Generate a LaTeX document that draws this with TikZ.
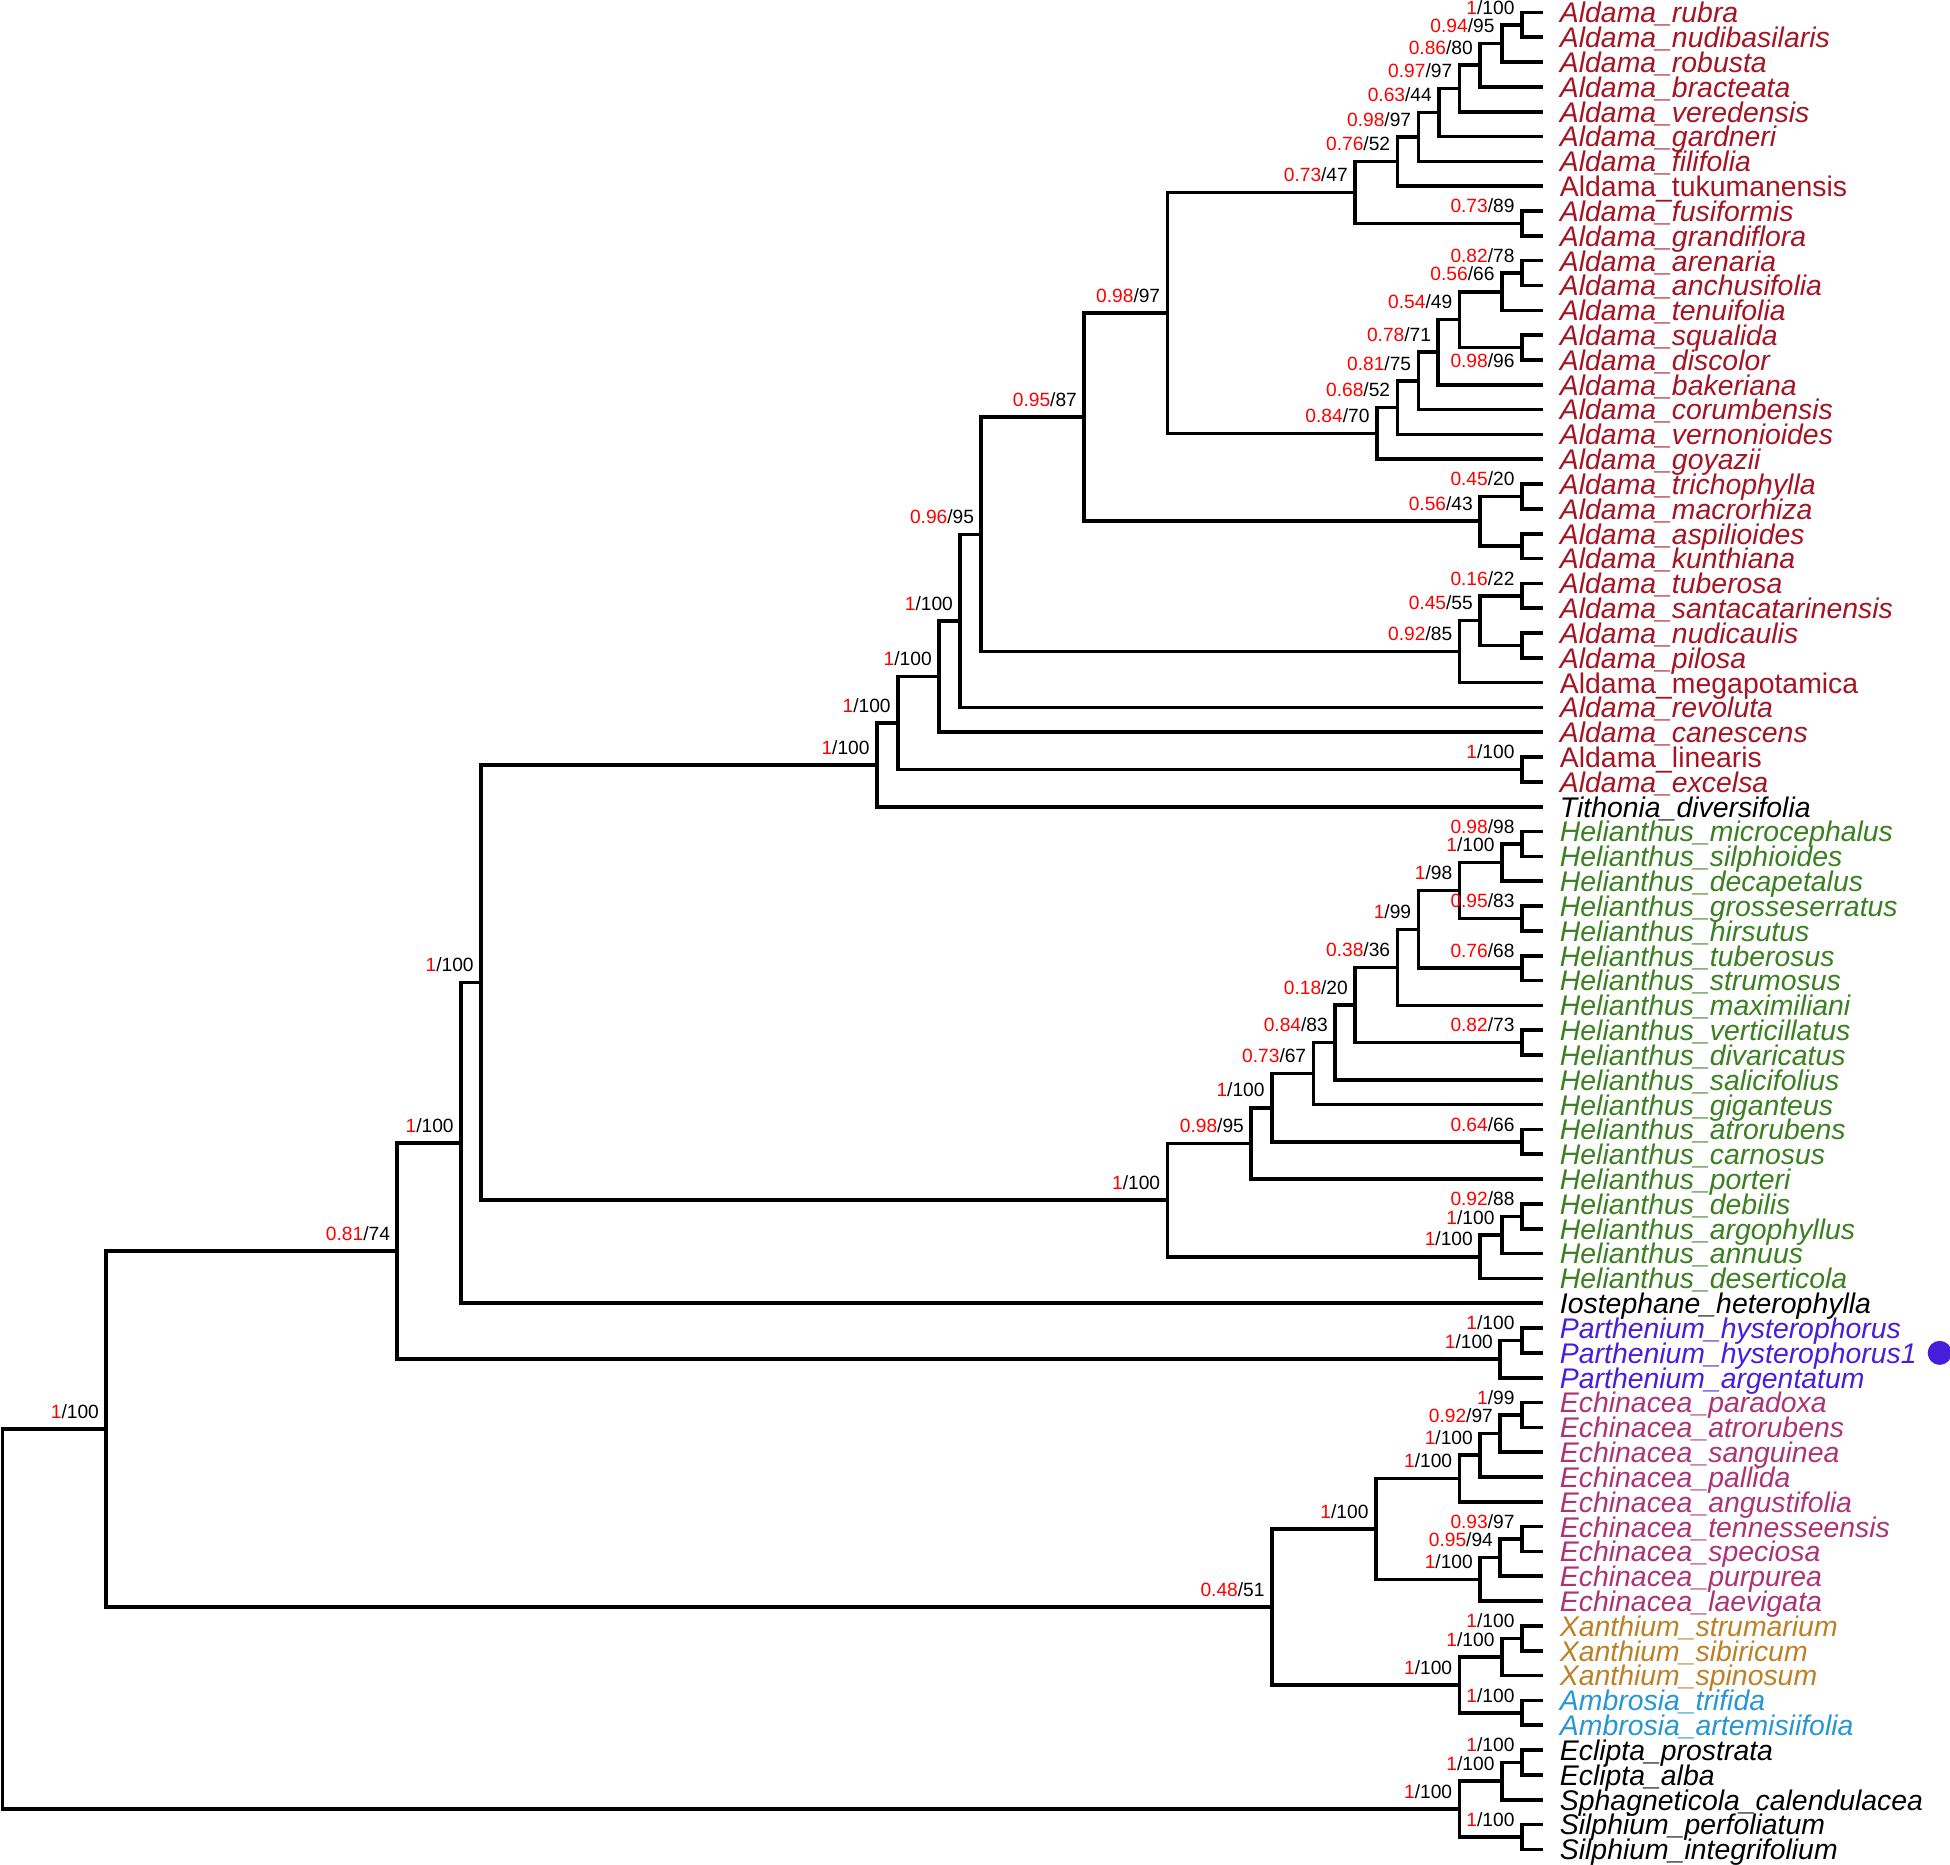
\documentclass[tikz,border=0pt]{standalone}
\usepackage{fontspec}
\setmainfont{Liberation Sans}
\usetikzlibrary{calc}

\definecolor{aldred}{RGB}{165,20,35}
\definecolor{helgreen}{RGB}{58,128,32}
\definecolor{parblue}{RGB}{70,30,220}
\definecolor{echpink}{RGB}{172,52,118}
\definecolor{xanochre}{RGB}{189,128,36}
\definecolor{ambblue}{RGB}{40,150,210}
\definecolor{bsred}{RGB}{255,0,0}

\tikzset{x=0.6pt, y=-11.976pt,
  br/.style={line width=1.75pt},
  leaf/.style={anchor=base west, inner sep=0pt, xshift=7.8pt, yshift=-5pt,
    font=\fontsize{13.7}{14}\selectfont\itshape},
  supbase/.style={anchor=base east, inner sep=0pt, xshift=-3.3pt,
    font=\fontsize{9.25}{10}\selectfont},
  sup/.style={supbase, yshift=5.2pt},
  supbelow/.style={supbase, yshift=-9.7pt},
  dot/.style={circle, fill=parblue, inner sep=0pt, minimum size=11.6pt}}

\newcommand\supp[2]{\textcolor{bsred}{#1}/#2}
% node at x=#2, halfway between children #3 and #4
\newcommand\mkclade[4]{%
  \coordinate (tmp) at ($(#3)!0.5!(#4)$);
  \coordinate (#1) at (#2,0 |- tmp);
  \draw[br] (#1) |- (#3) (#1) |- (#4);
}

\begin{document}
\begin{tikzpicture}

\useasboundingbox (0,0.499) rectangle (1568,75.599);

% tips
\foreach \i in {1,...,75}
  \coordinate (t\i) at (1241,\i);

% Aldama
\mkclade{a1}{1223.6}{t1}{t2}
\mkclade{a2}{1207.5}{a1}{t3}
\mkclade{a3}{1190.1}{a2}{t4}
\mkclade{a4}{1173.5}{a3}{t5}
\mkclade{a5}{1157.1}{a4}{t6}
\mkclade{a6}{1140.5}{a5}{t7}
\mkclade{a7}{1123.6}{a6}{t8}
\mkclade{a8}{1223.6}{t9}{t10}
\mkclade{a9}{1089.6}{a7}{a8}
\mkclade{a10}{1223.6}{t11}{t12}
\mkclade{a11}{1207.5}{a10}{t13}
\mkclade{a12}{1223.6}{t14}{t15}
\mkclade{a13}{1173.5}{a11}{a12}
\mkclade{a14}{1156.5}{a13}{t16}
\mkclade{a15}{1140.5}{a14}{t17}
\mkclade{a16}{1123.6}{a15}{t18}
\mkclade{a17}{1107}{a16}{t19}
\mkclade{a18}{938.7}{a9}{a17}
\mkclade{a19}{1223.6}{t20}{t21}
\mkclade{a20}{1223.6}{t22}{t23}
\mkclade{a21}{1190.1}{a19}{a20}
\mkclade{a22}{871.7}{a18}{a21}
\mkclade{a23}{1223.6}{t24}{t25}
\mkclade{a24}{1223.6}{t26}{t27}
\mkclade{a25}{1190.1}{a23}{a24}
\mkclade{a26}{1173.5}{a25}{t28}
\mkclade{a27}{789}{a22}{a26}
\mkclade{a28}{772}{a27}{t29}
\mkclade{a29}{755}{a28}{t30}
\mkclade{a30}{1223.6}{t31}{t32}
\mkclade{a31}{722}{a29}{a30}
\mkclade{a32}{705}{a31}{t33}

% Helianthus
\mkclade{h1}{1223.6}{t34}{t35}
\mkclade{h2}{1207.5}{h1}{t36}
\mkclade{h3}{1223.6}{t37}{t38}
\mkclade{h4}{1173.5}{h2}{h3}
\mkclade{h5}{1223.6}{t39}{t40}
\mkclade{h6}{1140.5}{h4}{h5}
\mkclade{h7}{1123.6}{h6}{t41}
\mkclade{h8}{1223.6}{t42}{t43}
\mkclade{h9}{1089.6}{h7}{h8}
\mkclade{h10}{1073.5}{h9}{t44}
\mkclade{h11}{1056.1}{h10}{t45}
\mkclade{h12}{1223.6}{t46}{t47}
\mkclade{h13}{1022.6}{h11}{h12}
\mkclade{h14}{1006}{h13}{t48}
\mkclade{h15}{1223.6}{t49}{t50}
\mkclade{h16}{1207.5}{h15}{t51}
\mkclade{h17}{1190.1}{h16}{t52}
\mkclade{h18}{938.7}{h14}{h17}

\mkclade{n1}{386.7}{a32}{h18}
\mkclade{n2}{370.6}{n1}{t53}
\mkclade{p1}{1223.6}{t54}{t55}
\mkclade{p2}{1206.2}{p1}{t56}
\mkclade{n3}{319.4}{n2}{p2}

% Echinacea, Xanthium, Ambrosia
\mkclade{e1}{1223.6}{t57}{t58}
\mkclade{e2}{1206.2}{e1}{t59}
\mkclade{e3}{1190.1}{e2}{t60}
\mkclade{e4}{1173.5}{e3}{t61}
\mkclade{e5}{1223.6}{t62}{t63}
\mkclade{e6}{1206.2}{e5}{t64}
\mkclade{e7}{1190.1}{e6}{t65}
\mkclade{e8}{1106.2}{e4}{e7}
\mkclade{x1}{1223.6}{t66}{t67}
\mkclade{x2}{1207.5}{x1}{t68}
\mkclade{x3}{1223.6}{t69}{t70}
\mkclade{x4}{1173.5}{x2}{x3}
\mkclade{n4}{1022.6}{e8}{x4}
\mkclade{n5}{85.3}{n3}{n4}

% outgroup
\mkclade{s1}{1223.6}{t71}{t72}
\mkclade{s2}{1207.5}{s1}{t73}
\mkclade{s3}{1223.6}{t74}{t75}
\mkclade{s4}{1173.5}{s2}{s3}
\mkclade{root}{1.9}{n5}{s4}

% support values
\foreach \nd/\pv/\bv in {a1/1/100, a2/0.94/95, a3/0.86/80, a4/0.97/97,
    a5/0.63/44, a6/0.98/97, a7/0.76/52, a8/0.73/89, a9/0.73/47,
    a10/0.82/78, a11/0.56/66, a13/0.54/49, a14/0.78/71, a15/0.81/75,
    a16/0.68/52, a17/0.84/70, a18/0.98/97, a19/0.45/20, a21/0.56/43,
    a22/0.95/87, a23/0.16/22, a25/0.45/55, a26/0.92/85, a27/0.96/95,
    a28/1/100, a29/1/100, a30/1/100, a31/1/100, a32/1/100,
    h1/0.98/98, h2/1/100, h3/0.95/83, h4/1/98, h5/0.76/68, h6/1/99,
    h7/0.38/36, h8/0.82/73, h9/0.18/20, h10/0.84/83, h11/0.73/67,
    h12/0.64/66, h13/1/100, h14/0.98/95, h15/0.92/88, h16/1/100,
    h17/1/100, h18/1/100,
    n1/1/100, n2/1/100, p1/1/100, p2/1/100, n3/0.81/74,
    e1/1/99, e2/0.92/97, e3/1/100, e4/1/100, e5/0.93/97, e6/0.95/94,
    e7/1/100, e8/1/100, x1/1/100, x2/1/100, x3/1/100, x4/1/100,
    n4/0.48/51, n5/1/100, s1/1/100, s2/1/100, s3/1/100, s4/1/100}
  \node[sup] (b\nd) at (\nd) {\supp{\pv}{\bv}};
\node[supbelow] (ba12) at (a12) {\supp{0.98}{96}};

% taxa
\foreach \i/\nm/\col in {1/Aldama\_rubra/aldred, 2/Aldama\_nudibasilaris/aldred,
    3/Aldama\_robusta/aldred, 4/Aldama\_bracteata/aldred,
    5/Aldama\_veredensis/aldred, 6/Aldama\_gardneri/aldred,
    7/Aldama\_filifolia/aldred, 8/\upshape Aldama\_tukumanensis/aldred,
    9/Aldama\_fusiformis/aldred, 10/Aldama\_grandiflora/aldred,
    11/Aldama\_arenaria/aldred, 12/Aldama\_anchusifolia/aldred,
    13/Aldama\_tenuifolia/aldred, 14/Aldama\_squalida/aldred,
    15/Aldama\_discolor/aldred, 16/Aldama\_bakeriana/aldred,
    17/Aldama\_corumbensis/aldred, 18/Aldama\_vernonioides/aldred,
    19/Aldama\_goyazii/aldred, 20/Aldama\_trichophylla/aldred,
    21/Aldama\_macrorhiza/aldred, 22/Aldama\_aspilioides/aldred,
    23/Aldama\_kunthiana/aldred, 24/Aldama\_tuberosa/aldred,
    25/Aldama\_santacatarinensis/aldred, 26/Aldama\_nudicaulis/aldred,
    27/Aldama\_pilosa/aldred, 28/\upshape Aldama\_megapotamica/aldred,
    29/Aldama\_revoluta/aldred, 30/Aldama\_canescens/aldred,
    31/\upshape Aldama\_linearis/aldred, 32/Aldama\_excelsa/aldred,
    33/Tithonia\_diversifolia/black,
    34/Helianthus\_microcephalus/helgreen, 35/Helianthus\_silphioides/helgreen,
    36/Helianthus\_decapetalus/helgreen, 37/Helianthus\_grosseserratus/helgreen,
    38/Helianthus\_hirsutus/helgreen, 39/Helianthus\_tuberosus/helgreen,
    40/Helianthus\_strumosus/helgreen, 41/Helianthus\_maximiliani/helgreen,
    42/Helianthus\_verticillatus/helgreen, 43/Helianthus\_divaricatus/helgreen,
    44/Helianthus\_salicifolius/helgreen, 45/Helianthus\_giganteus/helgreen,
    46/Helianthus\_atrorubens/helgreen, 47/Helianthus\_carnosus/helgreen,
    48/Helianthus\_porteri/helgreen, 49/Helianthus\_debilis/helgreen,
    50/Helianthus\_argophyllus/helgreen, 51/Helianthus\_annuus/helgreen,
    52/Helianthus\_deserticola/helgreen,
    53/Iostephane\_heterophylla/black,
    54/Parthenium\_hysterophorus/parblue, 55/Parthenium\_hysterophorus1/parblue,
    56/Parthenium\_argentatum/parblue,
    57/Echinacea\_paradoxa/echpink, 58/Echinacea\_atrorubens/echpink,
    59/Echinacea\_sanguinea/echpink, 60/Echinacea\_pallida/echpink,
    61/Echinacea\_angustifolia/echpink, 62/Echinacea\_tennesseensis/echpink,
    63/Echinacea\_speciosa/echpink, 64/Echinacea\_purpurea/echpink,
    65/Echinacea\_laevigata/echpink,
    66/Xanthium\_strumarium/xanochre, 67/Xanthium\_sibiricum/xanochre,
    68/Xanthium\_spinosum/xanochre,
    69/Ambrosia\_trifida/ambblue, 70/Ambrosia\_artemisiifolia/ambblue,
    71/Eclipta\_prostrata/black, 72/Eclipta\_alba/black,
    73/Sphagneticola\_calendulacea/black,
    74/Silphium\_perfoliatum/black, 75/Silphium\_integrifolium/black}
  \node[leaf, text=\col] (l\i) at (t\i) {\nm};

\node[dot] (mark) at (1559.7,55) {};

\end{tikzpicture}
\end{document}
